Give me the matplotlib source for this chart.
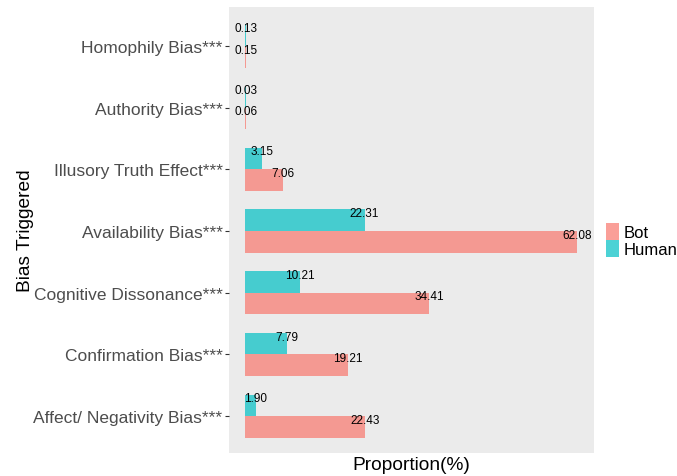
"""Horizontal grouped bars: proportion of bias triggered, bot vs human."""
import matplotlib
matplotlib.use("Agg")
import matplotlib.pyplot as plt
import numpy as np
from matplotlib.patches import Patch

plt.rcParams["font.family"] = ["Liberation Sans", "DejaVu Sans"]

categories = [
    "Homophily Bias***",
    "Authority Bias***",
    "Illusory Truth Effect***",
    "Availability Bias***",
    "Cognitive Dissonance***",
    "Confirmation Bias***",
    "Affect/ Negativity Bias***",
]
bot = [0.15, 0.06, 7.06, 62.08, 34.41, 19.21, 22.43]
human = [0.13, 0.03, 3.15, 22.31, 10.21, 7.79, 1.90]
bot_labels = ["0.15", "0.06", "7.06", "62.08", "34.41", "19.21", "22.43"]
human_labels = ["0.13", "0.03", "3.15", "22.31", "10.21", "7.79", "1.90"]

BOT_COLOR = "#F8766D"
HUMAN_COLOR = "#00BFC4"
ALPHA = 0.7
h = 0.35

fig = plt.figure(figsize=(6.77, 4.77), dpi=100)
ax = fig.add_axes([0.338, 0.048, 0.539, 0.935])
ax.set_facecolor("#EBEBEB")

y = np.arange(len(categories))
ax.barh(y - h / 2, human, height=h, color=HUMAN_COLOR, alpha=ALPHA, linewidth=0)
ax.barh(y + h / 2, bot, height=h, color=BOT_COLOR, alpha=ALPHA, linewidth=0)

for yi, v, lab in zip(y, human, human_labels):
    ax.text(v, yi - h + 0.06, lab, ha="center", va="center", fontsize=8.5, color="black")
for yi, v, lab in zip(y, bot, bot_labels):
    ax.text(v, yi + 0.06, lab, ha="center", va="center", fontsize=8.5, color="black")

ax.set_xlim(-3.1, 65.2)
ax.set_ylim(6.6, -0.63)
ax.set_yticks(y)
ax.set_yticklabels(categories, fontsize=12.5, color="#4D4D4D")
ax.set_xticks([])
ax.tick_params(axis="y", length=3, width=0.8, color="#333333", pad=1.5)
for s in ax.spines.values():
    s.set_visible(False)

ax.set_xlabel("Proportion(%)", fontsize=13.8, labelpad=2)
ax.set_ylabel("Bias Triggered", fontsize=13.8)
ax.yaxis.set_label_coords(-0.535, 0.5)

handles = [
    Patch(facecolor=BOT_COLOR, alpha=ALPHA, edgecolor="none", label="Bot"),
    Patch(facecolor=HUMAN_COLOR, alpha=ALPHA, edgecolor="none", label="Human"),
]
fig.legend(handles=handles, loc="center left", bbox_to_anchor=(0.895, 0.495),
           frameon=False, fontsize=12, handlelength=0.8, handleheight=1.2,
           handletextpad=0.25, labelspacing=0.0, borderpad=0, borderaxespad=0)

fig.savefig("out.png", dpi=100)
